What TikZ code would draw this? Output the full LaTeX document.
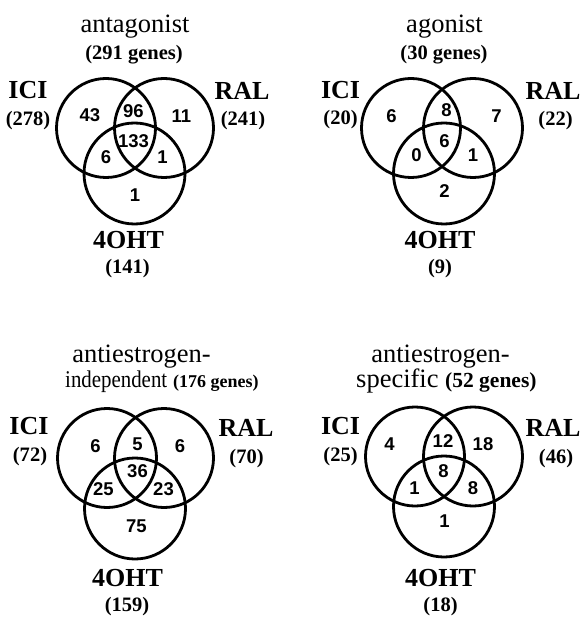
\documentclass[tikz,border=0pt]{standalone}
\usepackage{fontspec}
\setmainfont{Liberation Serif}
\newfontfamily\numfont{Liberation Sans}
\tikzset{
  venn/.style={draw=black, line width=2.8pt},
  ttl/.style={inner sep=0pt, anchor=base, font=\fontsize{26.5}{28}\selectfont},
  sub/.style={inner sep=0pt, anchor=base, font=\bfseries\fontsize{20.5}{22}\selectfont},
  setname/.style={inner sep=0pt, anchor=base, font=\bfseries\fontsize{26}{28}\selectfont},
  cnt/.style={inner sep=0pt, anchor=base, font=\bfseries\fontsize{20.5}{22}\selectfont},
  num/.style={inner sep=0pt, anchor=center, font=\numfont\bfseries\fontsize{18.5}{19}\selectfont}
}
\begin{document}
\begin{tikzpicture}[x=1pt,y=-1pt]
\useasboundingbox (0,0) rectangle (586,617);
% ---------- Panel 1: antagonist ----------
\node[venn, circle, minimum size=99pt, inner sep=0pt] (a1) at (106,128) {};
\node[venn, circle, minimum size=99pt, inner sep=0pt] (a2) at (164,128) {};
\node[venn, circle, minimum size=101pt, inner sep=0pt] (a3) at (134.5,173.5) {};
\node[ttl] (at) at (135,33) {antagonist};
\node[sub] (as) at (134,60) {(291 genes)};
\node[setname] (ai) at (28,99) {ICI};
\node[cnt] (aic) at (28,126) {(278)};
\node[setname] (ar) at (242,100) {RAL};
\node[cnt] (arc) at (243,126) {(241)};
\node[setname] (ao) at (128.5,248) {4OHT};
\node[cnt] (aoc) at (127.5,273) {(141)};
\node[num] (an1) at (90,115.5) {43};
\node[num] (an2) at (133.5,111.5) {96};
\node[num] (an3) at (181.5,116.5) {11};
\node[num] (an4) at (133.5,141.5) {133};
\node[num] (an5) at (106,157) {6};
\node[num] (an6) at (162.5,157) {1};
\node[num] (an7) at (135,195) {1};
% ---------- Panel 2: agonist ----------
\node[venn, circle, minimum size=99pt, inner sep=0pt] (b1) at (411,128) {};
\node[venn, circle, minimum size=99pt, inner sep=0pt] (b2) at (473,128) {};
\node[venn, circle, minimum size=101pt, inner sep=0pt] (b3) at (444,173.5) {};
\node[ttl] (bt) at (444.5,33) {agonist};
\node[sub] (bs) at (444,60) {(30 genes)};
\node[setname] (bi) at (340.5,99) {ICI};
\node[cnt] (bic) at (340.5,125) {(20)};
\node[setname] (br) at (553,100) {RAL};
\node[cnt] (brc) at (555.5,126) {(22)};
\node[setname] (bo) at (440,248) {4OHT};
\node[cnt] (boc) at (440,273) {(9)};
\node[num] (bn1) at (391.5,116.5) {6};
\node[num] (bn2) at (446.5,110) {8};
\node[num] (bn3) at (496.5,116.5) {7};
\node[num] (bn4) at (444.5,141.5) {6};
\node[num] (bn5) at (416.5,155) {0};
\node[num] (bn6) at (473,155) {1};
\node[num] (bn7) at (444.5,191.5) {2};
% ---------- Panel 3: antiestrogen-independent ----------
\node[venn, circle, minimum size=99pt, inner sep=0pt] (c1) at (107,458) {};
\node[venn, circle, minimum size=99pt, inner sep=0pt] (c2) at (164,458) {};
\node[venn, circle, minimum size=101pt, inner sep=0pt] (c3) at (135,508.5) {};
\node[ttl] (ct) at (141.5,362.5) {antiestrogen-};
\node[ttl, anchor=base west] (ct2) at (65,387.5) {\fontsize{24}{26}\selectfont\scalebox{0.87}[1]{independent} \textbf{\fontsize{18}{20}\selectfont(176 genes)}};
\node[setname] (ci) at (29,434.5) {ICI};
\node[cnt] (cic) at (30,461) {(72)};
\node[setname] (cr) at (246,436) {RAL};
\node[cnt] (crc) at (246.5,463) {(70)};
\node[setname] (co) at (127.5,586) {4OHT};
\node[cnt] (coc) at (127,611) {(159)};
\node[num] (cn1) at (95.5,446) {6};
\node[num] (cn2) at (137.5,444.5) {5};
\node[num] (cn3) at (180,446) {6};
\node[num] (cn4) at (137.5,471) {36};
\node[num] (cn5) at (103.5,489) {25};
\node[num] (cn6) at (163.5,489) {23};
\node[num] (cn7) at (136.5,526) {75};
% ---------- Panel 4: antiestrogen-specific ----------
\node[venn, circle, minimum size=99pt, inner sep=0pt] (d1) at (415,456.5) {};
\node[venn, circle, minimum size=99pt, inner sep=0pt] (d2) at (473,456.5) {};
\node[venn, circle, minimum size=101pt, inner sep=0pt] (d3) at (444,506.5) {};
\node[ttl] (dt) at (440.5,362.5) {antiestrogen-};
\node[ttl, anchor=base west] (dt2) at (356,387.5) {\fontsize{26.5}{28}\selectfont specific \textbf{\fontsize{21.5}{23}\selectfont(52 genes)}};
\node[setname] (di) at (340.5,434.5) {ICI};
\node[cnt] (dic) at (340.5,461) {(25)};
\node[setname] (dr) at (553,436) {RAL};
\node[cnt] (drc) at (556,463) {(46)};
\node[setname] (do) at (440.5,586) {4OHT};
\node[cnt] (doc) at (440.5,611) {(18)};
\node[num] (dn1) at (389.5,444.5) {4};
\node[num] (dn2) at (443,441) {12};
\node[num] (dn3) at (483,444.5) {18};
\node[num] (dn4) at (443.5,471) {8};
\node[num] (dn5) at (414.5,488) {1};
\node[num] (dn6) at (473,488) {8};
\node[num] (dn7) at (444.5,521) {1};
\end{tikzpicture}
\end{document}
